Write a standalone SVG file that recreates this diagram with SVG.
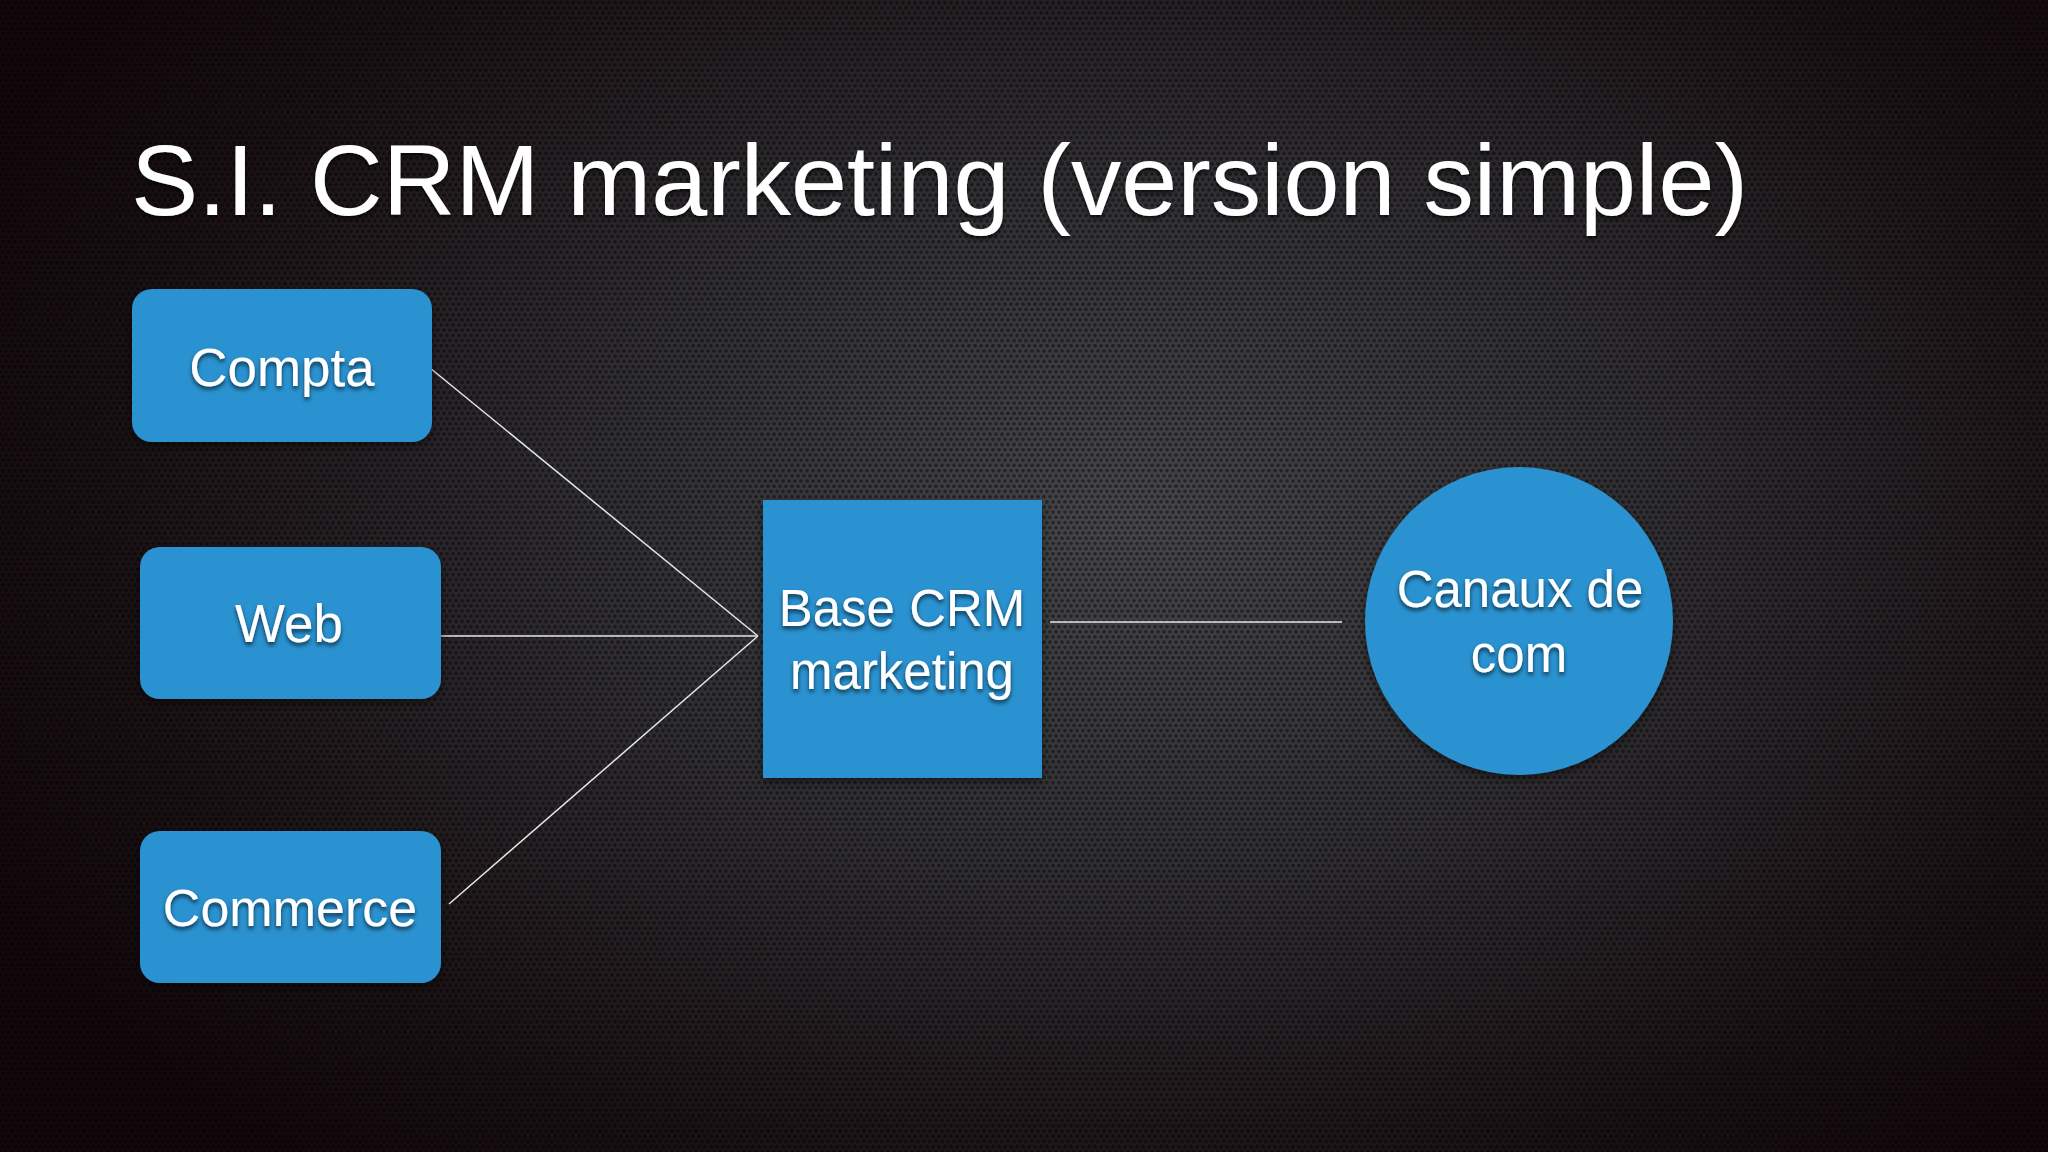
<svg xmlns="http://www.w3.org/2000/svg" width="2048" height="1152" viewBox="0 0 2048 1152">
  <defs>
    <radialGradient id="bg" cx="0.55" cy="0.45" r="0.62" gradientTransform="translate(0.55 0.45) scale(1 1.2) translate(-0.55 -0.45)">
      <stop offset="0" stop-color="#47474b"/>
      <stop offset="0.45" stop-color="#2e2c30"/>
      <stop offset="0.8" stop-color="#1a1114"/>
      <stop offset="1" stop-color="#12080b"/>
    </radialGradient>
    <pattern id="holes" width="6" height="10.4" patternUnits="userSpaceOnUse">
      <circle cx="3" cy="2.6" r="1.9" fill="#000"/>
      <circle cx="0" cy="7.8" r="1.9" fill="#000"/>
      <circle cx="6" cy="7.8" r="1.9" fill="#000"/>
    </pattern>
    <filter id="ts" x="-10%" y="-20%" width="120%" height="150%">
      <feDropShadow dx="0" dy="3" stdDeviation="2" flood-color="#000" flood-opacity="0.65"/>
    </filter>
    <filter id="bs" x="-10%" y="-10%" width="120%" height="130%">
      <feDropShadow dx="0" dy="4" stdDeviation="5" flood-color="#000" flood-opacity="0.5"/>
    </filter>
  </defs>
  <style>
    .node { fill: #2a92d0; }
    .lbl { font-family: "Liberation Sans", Arial, sans-serif; font-size: 53px; fill: #ffffff; text-anchor: middle; filter: url(#ts); }
    .title { font-family: "Liberation Sans", Arial, sans-serif; font-size: 100px; fill: #ffffff; filter: url(#ts); }
    .conn { stroke: #e8e8e8; stroke-width: 1.5; fill: none; }
  </style>

  <rect x="0" y="0" width="2048" height="1152" fill="url(#bg)"/>
  <rect x="0" y="0" width="2048" height="1152" fill="url(#holes)" opacity="0.45"/>

  <text class="title" x="131" y="215" textLength="1617" lengthAdjust="spacingAndGlyphs">S.I. CRM marketing (version simple)</text>

  <g id="connectors">
    <line class="conn" x1="430" y1="368" x2="758" y2="636"/>
    <line class="conn" x1="441" y1="636" x2="758" y2="636"/>
    <line class="conn" x1="449" y1="904" x2="758" y2="636"/>
    <line class="conn" x1="1050" y1="622" x2="1342" y2="622"/>
  </g>

  <g id="compta">
    <rect class="node" x="132" y="289" width="300" height="153" rx="20" filter="url(#bs)"/>
    <text class="lbl" x="282" y="386" font-size="54">Compta</text>
  </g>

  <g id="web">
    <rect class="node" x="140" y="547" width="301" height="152" rx="20" filter="url(#bs)"/>
    <text class="lbl" x="289" y="642">Web</text>
  </g>

  <g id="commerce">
    <rect class="node" x="140" y="831" width="301" height="152" rx="20" filter="url(#bs)"/>
    <text class="lbl" x="290" y="926" style="font-size:52px">Commerce</text>
  </g>

  <g id="base-crm">
    <rect class="node" x="763" y="500" width="279" height="278" filter="url(#bs)"/>
    <text class="lbl" x="902" y="626" style="font-size:51px">Base CRM</text>
    <text class="lbl" x="902" y="689" style="font-size:51px">marketing</text>
  </g>

  <g id="canaux">
    <circle class="node" cx="1519" cy="621" r="154" filter="url(#bs)"/>
    <text class="lbl" x="1520" y="607" style="font-size:51px">Canaux de</text>
    <text class="lbl" x="1519" y="672" style="font-size:51px">com</text>
  </g>
</svg>
